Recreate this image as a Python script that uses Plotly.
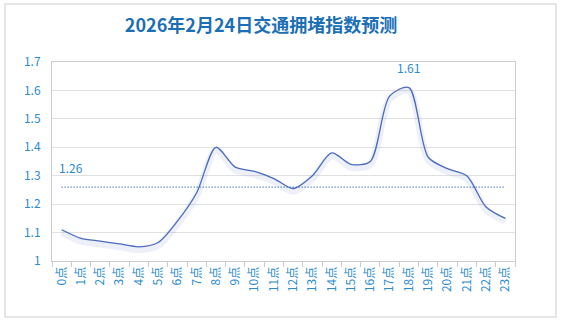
import plotly.graph_objects as go

hours = [f"{h}点" for h in range(24)]
index_values = [1.11, 1.08, 1.07, 1.06, 1.05, 1.065, 1.14, 1.24, 1.40, 1.33,
                1.315, 1.29, 1.255, 1.30, 1.38, 1.34, 1.35, 1.58, 1.61, 1.365,
                1.325, 1.30, 1.19, 1.15]
average_value = 1.26
peak_value = 1.61
peak_hour = "18点"
y_ticks = [1.0, 1.1, 1.2, 1.3, 1.4, 1.5, 1.6, 1.7]
y_tick_text = ["1", "1.1", "1.2", "1.3", "1.4", "1.5", "1.6", "1.7"]
title_text = "2026年2月24日交通拥堵指数预测"

W, H = 562, 324
ML, MR, MT, MB = 52, 47, 62, 63
pw, ph = W - ML - MR, H - MT - MB

label_color = "#2a8bd0"
font_family = "Noto Sans CJK SC, Microsoft YaHei, sans-serif"

fig = go.Figure()
# soft glow under the line
fig.add_trace(go.Scatter(x=hours, y=[v - 0.01 for v in index_values], mode="lines",
                         line=dict(color="rgba(74,107,191,0.10)", width=7, shape="spline", smoothing=0.8),
                         hoverinfo="skip", showlegend=False))
fig.add_trace(go.Scatter(x=hours, y=index_values, mode="lines",
                         line=dict(color="#4a6bbf", width=1.3, shape="spline", smoothing=0.8),
                         showlegend=False))
fig.add_trace(go.Scatter(x=hours, y=[average_value] * len(hours), mode="lines",
                         line=dict(color="#2a5db0", width=1.3, dash="1px,2px"),
                         showlegend=False))

fig.add_annotation(x=hours[0], y=average_value, text=f"{average_value:.2f}",
                   showarrow=False, xanchor="left", yanchor="bottom", xshift=-5, yshift=9,
                   font=dict(color=label_color, size=12, family=font_family))
fig.add_annotation(x=peak_hour, y=peak_value, text=f"{peak_value:.2f}",
                   showarrow=False, xanchor="center", yanchor="bottom", yshift=10,
                   font=dict(color=label_color, size=12, family=font_family))

# outer frame
fx0 = (5 - ML) / pw
fx1 = (556 - ML) / pw
fy1 = (H - MB - 4) / ph
fy0 = (H - MB - 317) / ph
fig.add_shape(type="rect", xref="paper", yref="paper", x0=fx0, x1=fx1, y0=fy0, y1=fy1,
              line=dict(color="#dedede", width=1.5), layer="below")

fig.update_layout(
    width=W, height=H,
    margin=dict(l=ML, r=MR, t=MT, b=MB),
    paper_bgcolor="white", plot_bgcolor="white",
    title=dict(text=f"<b>{title_text}</b>", x=(261 - ML) / pw, xref="paper", xanchor="center",
               y=1 - 26 / H, yref="container", yanchor="middle",
               font=dict(color="#1b6fb6", size=18, family=font_family)),
    font=dict(family=font_family),
)
fig.update_xaxes(type="category", tickangle=-90, tickson="boundaries", ticks="outside",
                 ticklen=5, tickcolor="#cccccc", showline=True, linecolor="#cccccc",
                 mirror=True, showgrid=False, tickfont=dict(color=label_color, size=12),
                 range=[-0.5, 23.5])
fig.update_yaxes(range=[1.0, 1.7], tickvals=y_ticks, ticktext=y_tick_text,
                 showgrid=True, gridcolor="#e0e0e0", showline=True, linecolor="#cccccc",
                 mirror=True, zeroline=False, ticks="", ticklabelstandoff=8,
                 tickfont=dict(color=label_color, size=12))

fig.write_html("out.html")
